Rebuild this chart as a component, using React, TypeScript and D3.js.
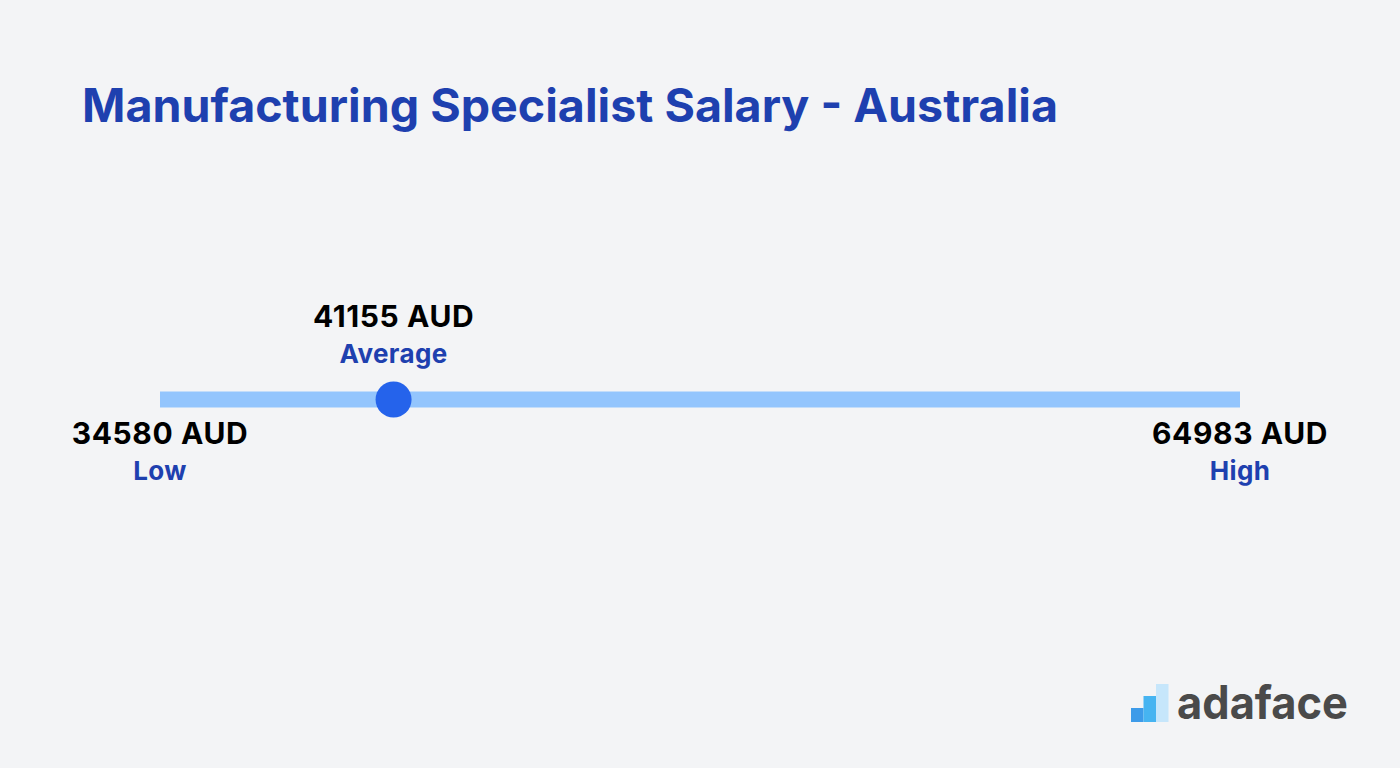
import * as d3 from 'd3'
import React, { useRef, useEffect } from 'react'

const title = 'Manufacturing Specialist Salary - Australia'
const currency = 'AUD'
const markerNames = ['Low', 'Average', 'High']
const markerValues = [34580, 41155, 64983]
const logoBars = [14, 26, 38]
const logoColors = ['#3d9be9', '#46b4f1', '#c6e6fb']

const App = () => {
  const ref = useRef<SVGSVGElement | null>(null)

  useEffect(() => {
    const svg = d3.select(ref.current)
    svg.selectAll('*').remove()
    const width = 1400
    const height = 768
    const font = 'Inter, "DejaVu Sans", sans-serif'

    svg.append('rect').attr('width', width).attr('height', height).attr('fill', '#f3f4f6')

    // Title
    svg.append('text')
      .attr('x', 82).attr('y', 122)
      .attr('fill', '#1e40af')
      .style('font-family', font)
      .style('font-weight', 700)
      .style('font-size', '46px')
      .attr('textLength', 976)
      .attr('lengthAdjust', 'spacingAndGlyphs')
      .text(title)

    const lo = markerValues[0]
    const hi = markerValues[2]
    const x = d3.scaleLinear().domain([lo, hi]).range([160, 1240])
    const lineY = 399.5

    // Range bar
    svg.append('rect')
      .attr('x', x(lo)).attr('y', lineY - 8)
      .attr('width', x(hi) - x(lo)).attr('height', 16)
      .attr('fill', '#93c5fd')

    // Average dot
    svg.append('circle')
      .attr('cx', x(markerValues[1])).attr('cy', lineY)
      .attr('r', 18)
      .attr('fill', '#2563eb')

    markerNames.forEach((name, i) => {
      const v = markerValues[i]
      const above = name === 'Average'
      const valY = above ? 327 : 444
      const g = svg.append('g').attr('transform', `translate(${x(v)},0)`)
      g.append('text')
        .attr('y', valY)
        .attr('text-anchor', 'middle')
        .attr('fill', '#000')
        .style('font-family', font)
        .style('font-weight', 700)
        .style('font-size', '30px')
        .style('letter-spacing', '0.6px')
        .text(`${v} ${currency}`)
      g.append('text')
        .attr('y', valY + 36)
        .attr('text-anchor', 'middle')
        .attr('fill', '#1e40af')
        .style('font-family', font)
        .style('font-weight', 700)
        .style('font-size', '26px')
        .style('letter-spacing', '0.4px')
        .text(name)
    })

    // Logo
    const logo = svg.append('g')
    logoBars.forEach((h, i) => {
      logo.append('rect')
        .attr('x', 1131 + i * 12.5).attr('y', 722 - h)
        .attr('width', 12.5).attr('height', h)
        .attr('fill', logoColors[i])
    })
    logo.append('text')
      .attr('x', 1177).attr('y', 719)
      .attr('fill', '#4a4a4a')
      .style('font-family', font)
      .style('font-weight', 700)
      .style('font-size', '46px')
      .attr('textLength', 171)
      .attr('lengthAdjust', 'spacingAndGlyphs')
      .text('adaface')
  }, [])

  return <svg ref={ref} width={1400} height={768} style={{ display: 'block', position: 'absolute', left: 0, top: 0 }} />
}

export default App
